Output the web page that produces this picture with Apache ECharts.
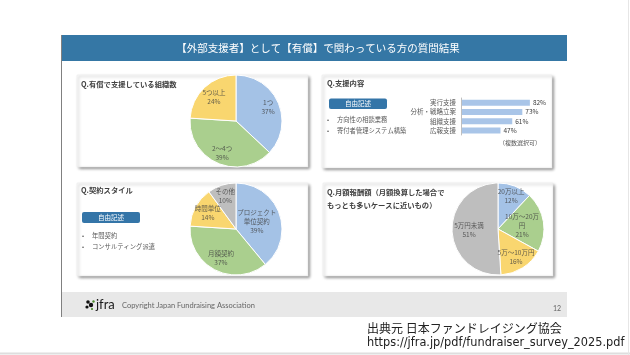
<!DOCTYPE html>
<html><head><meta charset="utf-8">
<script src="https://cdn.jsdelivr.net/npm/echarts@6/dist/echarts.min.js"></script>
<style>html,body{margin:0;padding:0;background:#fff}#c{width:630px;height:355px}</style>
</head><body><div id="c"></div>
<script>
// ---- data ----
const orgNames = ['1つ', '2〜4つ', '5つ以上'];
const orgValues = [37, 39, 24];
const supportCats = ['実行支援', '分析・戦略立案', '組織支援', '広報支援'];
const supportValues = [82, 73, 61, 47];
const contractNames = ['プロジェクト\n単位契約', '月額契約', '時間単位', 'その他'];
const contractValues = [39, 37, 14, 10];
const feeNames = ['20万以上', '10万〜20万\n円', '5万〜10万円', '5万円未満'];
const feeValues = [12, 21, 16, 51];
const supportFree = ['方向性の相談業務', '寄付者管理システム構築'];
const contractFree = ['年間契約', 'コンサルティング派遣'];

// ---- style ----
const FONT = '"Noto Sans CJK JP", "Noto Sans", sans-serif';
const C_BLUE = '#a4c2e6', C_GREEN = '#aacf8e', C_YEL = '#f9d66f', C_GRAY = '#bebebe';
const R = 46;
const PIE_CENTERS = [[236, 121], [236, 229], [498, 229]];
// label distance from centre as a fraction of the radius (style only)
const orgLabelR = [0.76, 0.76, 0.7];
const contractLabelR = [0.48, 0.72, 0.7, 0.75];
const feeLabelR = [0.77, 0.53, 0.73, 0.63];
const labelStyle = {fontSize: 6.5, color: '#404040', lineHeight: 9, fontFamily: FONT};

function sum(a) { return a.reduce((s, v) => s + v, 0); }
function pieSeries(idx, names, values, colors) {
  return {type: 'pie', center: PIE_CENTERS[idx], radius: R, startAngle: 90, clockwise: true, silent: true,
    data: names.map((n, i) => ({name: n, value: values[i], itemStyle: {color: colors[i]}})),
    itemStyle: {borderColor: '#fff', borderWidth: 1},
    label: {show: false}, labelLine: {show: false}, emphasis: {disabled: true}, z: 3};
}
function pieLabels(idx, names, values, ratios) {
  let cum = 0;
  const data = names.map((n, i) => {
    const mid = cum + values[i] / 2; cum += values[i];
    return {name: n, value: [ratios[i], mid]};
  });
  return {type: 'scatter', coordinateSystem: 'polar', polarIndex: idx, symbolSize: 1, silent: true, z: 6,
    itemStyle: {color: 'rgba(0,0,0,0)'}, data: data,
    label: Object.assign({show: true, position: 'inside',
      formatter: p => p.name + '\n' + values[p.dataIndex] + '%'}, labelStyle),
    emphasis: {disabled: true}};
}

function txt(x, y, text, size, fill, extra) {
  return Object.assign({type: 'text', x: x, y: y, z: 5,
    style: Object.assign({text: text, fontSize: size, fill: fill, fontFamily: FONT,
      verticalAlign: 'middle', align: 'left'}, (extra || {}))});
}
function panel(x, y, w, h) {
  return {type: 'rect', z: 1, shape: {x: x, y: y, width: w, height: h},
    style: {fill: '#fff', stroke: '#e6e6e6', lineWidth: 0.5, shadowBlur: 3, shadowOffsetX: 1.5, shadowOffsetY: 1.5,
      shadowColor: 'rgba(0,0,0,0.45)'}};
}
function button(x, y, w, h) {
  return [{type: 'rect', z: 4, shape: {x: x, y: y, width: w, height: h, r: 2},
    style: {fill: '#3475a8'}},
    txt(x + w / 2, y + h / 2, '自由記述', 6.5, '#fff', {align: 'center'})];
}
function bullets(x, y0, dy, items) {
  const out = [];
  items.forEach((t, i) => {
    out.push(txt(x, y0 + i * dy, '•', 6, '#404040'));
    out.push(txt(x + 10, y0 + i * dy, t, 6.3, '#595959'));
  });
  return out;
}

const graphic = [
  // page frame
  {type: 'line', z: 0, shape: {x1: 0, y1: 353.5, x2: 630, y2: 353.5}, style: {stroke: '#dedede', lineWidth: 2}},
  {type: 'line', z: 0, shape: {x1: 628.5, y1: 0, x2: 628.5, y2: 355}, style: {stroke: '#e6e6e6', lineWidth: 1}},
  // title bar
  {type: 'rect', z: 1, shape: {x: 61, y: 35, width: 506, height: 26}, style: {fill: '#3577a5'}},
  txt(318, 48, '【外部支援者】として【有償】で関わっている方の質問結果', 10.5, '#fff', {align: 'center'}),
  // left border line
  {type: 'line', z: 2, shape: {x1: 61.5, y1: 35, x2: 61.5, y2: 317}, style: {stroke: '#808080', lineWidth: 1}},
  // footer
  {type: 'rect', z: 1, shape: {x: 61, y: 292, width: 506, height: 25}, style: {fill: '#e8e8e8'}},
  {type: 'circle', z: 5, shape: {cx: 88, cy: 302, r: 1.8}, style: {fill: '#111'}},
  {type: 'circle', z: 5, shape: {cx: 91, cy: 305, r: 2.2}, style: {fill: '#111'}},
  {type: 'circle', z: 5, shape: {cx: 87, cy: 307, r: 1.6}, style: {fill: '#111'}},
  {type: 'circle', z: 5, shape: {cx: 93.5, cy: 301.5, r: 1.2}, style: {fill: '#4a8a2a'}},
  {type: 'circle', z: 5, shape: {cx: 92, cy: 309, r: 1.1}, style: {fill: '#4a8a2a'}},
  txt(96, 304.5, 'jfra', 13, '#1a1a1a', {fontFamily: 'Lato, "Noto Sans", sans-serif'}),
  txt(122, 306, 'Copyright Japan Fundraising Association', 7.5, '#666', {fontFamily: 'Lato, "Noto Sans", sans-serif'}),
  txt(553, 309, '12', 7, '#666', {fontFamily: 'Lato, "Noto Sans", sans-serif'}),
  // source
  txt(367, 328, '出典元 日本ファンドレイジング協会', 12, '#222'),
  txt(367, 343, 'https://jfra.jp/pdf/fundraiser_survey_2025.pdf', 12.6, '#222', {fontFamily: '"DejaVu Sans Condensed", "Liberation Sans Narrow", sans-serif'}),
  // panels
  panel(77, 75, 231, 92),
  panel(322, 75, 230, 93),
  panel(77, 183, 231, 93),
  panel(323, 183, 230, 93),
  // panel titles
  txt(81, 84, 'Q.有償で支援している組織数', 7.3, '#404040', {fontWeight: 'bold'}),
  txt(327, 83.5, 'Q.支援内容', 7.3, '#404040', {fontWeight: 'bold'}),
  txt(81, 190.5, 'Q.契約スタイル', 7.3, '#404040', {fontWeight: 'bold'}),
  txt(327, 192.5, 'Q.月額報酬額（月額換算した場合で', 7.3, '#404040', {fontWeight: 'bold'}),
  txt(327, 205, 'もっとも多いケースに近いもの）', 7.3, '#404040', {fontWeight: 'bold'}),
  txt(499, 143, '（複数選択可）', 6, '#595959'),
].concat(button(329, 98.5, 58, 10.5), button(82, 212, 58, 11),
  bullets(327, 119.3, 11.8, supportFree), bullets(82, 235.7, 11, contractFree));

const polarVals = [orgValues, contractValues, feeValues];
const option = {
  animation: false,
  textStyle: {fontFamily: FONT},
  graphic: graphic,
  grid: {left: 461, top: 98, width: 84, height: 37, containLabel: false},
  xAxis: {type: 'value', min: 0, max: 100, show: false},
  yAxis: {type: 'category', data: supportCats, inverse: true, z: 10,
    axisLine: {show: true, lineStyle: {color: '#bfbfbf', width: 1}},
    axisTick: {show: false},
    axisLabel: {interval: 0, fontSize: 6.5, color: '#595959', margin: 5, fontFamily: FONT}},
  polar: PIE_CENTERS.map(c => ({center: c, radius: R})),
  angleAxis: polarVals.map((v, i) => ({polarIndex: i, type: 'value', min: 0, max: sum(v), startAngle: 90,
    clockwise: true, show: false})),
  radiusAxis: polarVals.map((v, i) => ({polarIndex: i, type: 'value', min: 0, max: 1, show: false})),
  series: [
    {type: 'bar', data: supportValues, barWidth: 6, silent: true, z: 3,
     itemStyle: {color: '#a9c5e8'},
     label: {show: true, position: 'right', distance: 3, formatter: '{c}%', fontSize: 6.5, color: '#404040', fontFamily: FONT}},
    pieSeries(0, orgNames, orgValues, [C_BLUE, C_GREEN, C_YEL]),
    pieSeries(1, contractNames, contractValues, [C_BLUE, C_GREEN, C_YEL, C_GRAY]),
    pieSeries(2, feeNames, feeValues, [C_BLUE, C_GREEN, C_YEL, C_GRAY]),
    pieLabels(0, orgNames, orgValues, orgLabelR),
    pieLabels(1, contractNames, contractValues, contractLabelR),
    pieLabels(2, feeNames, feeValues, feeLabelR)
  ]
};
const chart = echarts.init(document.getElementById('c'), null, {renderer: 'canvas'});
chart.setOption(option);
</script></body></html>
